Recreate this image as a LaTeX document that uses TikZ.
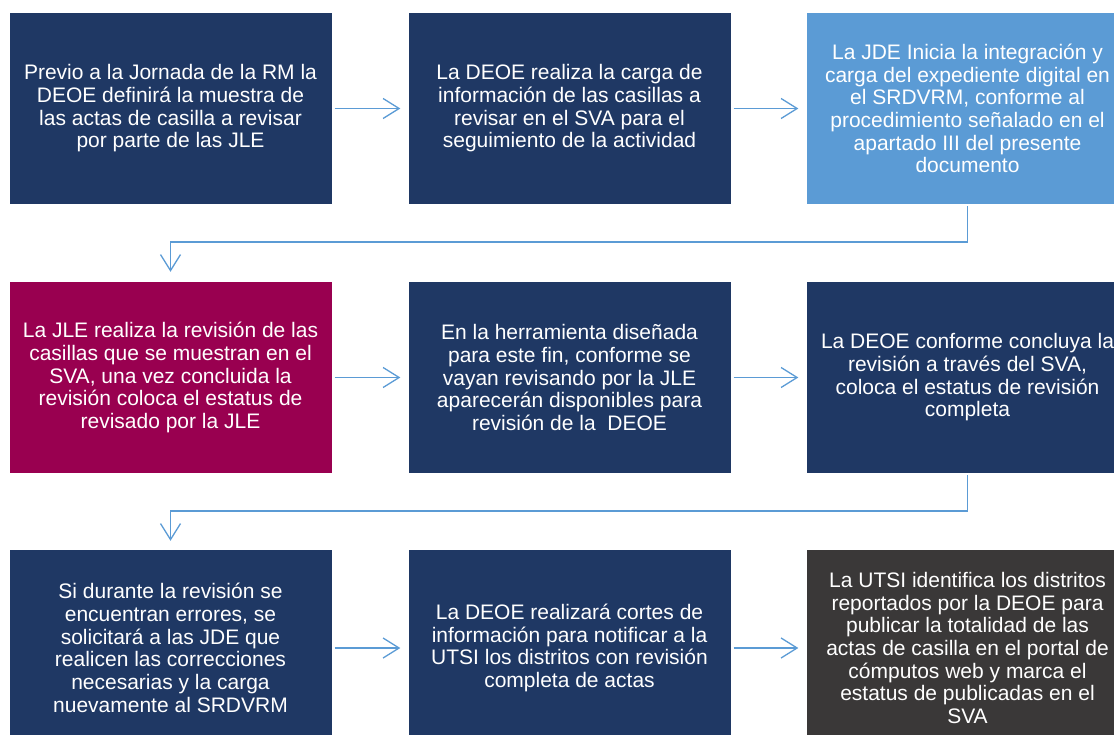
\documentclass[tikz,border=0pt]{standalone}
\usepackage{fontspec}
\setmainfont{Liberation Sans}
\usetikzlibrary{arrows.meta}
\definecolor{navy}{RGB}{31,56,100}
\definecolor{lblue}{RGB}{91,155,213}
\definecolor{maroon}{RGB}{153,0,80}
\definecolor{dgray}{RGB}{58,56,56}
\definecolor{conncol}{RGB}{91,155,213}
\begin{document}
\begin{tikzpicture}[x=1pt,y=-1pt,
  box/.style={rectangle, fill=#1, minimum width=322pt, minimum height=191pt,
    inner sep=0pt, text=white, align=center, font=\fontsize{21}{22.7}\selectfont},
  lowbox/.style={box=#1, minimum height=196pt},
  conn/.style={draw=conncol, line width=1.3pt,
    -{Straight Barb[length=16pt, width=20pt, line width=1.3pt]}}]
\useasboundingbox (0,0) rectangle (1114,735);
\clip (0,0) rectangle (1114,735);
% row 1
\node[box=navy] (b1) at (170.5,108.5) {Previo a la Jornada de la RM la\\DEOE definirá la muestra de\\las actas de casilla a revisar\\por parte de las JLE};
\node[box=navy] (b2) at (569.5,108.5) {La DEOE realiza la carga de\\información de las casillas a\\revisar en el SVA para el\\seguimiento de la actividad};
\node[box=lblue] (b3) at (967.5,108.5) {La JDE Inicia la integración y\\carga del expediente digital en\\el SRDVRM, conforme al\\procedimiento señalado en el\\apartado III del presente\\documento};
% row 2
\node[box=maroon] (b4) at (170.5,377.5) {La JLE realiza la revisión de las\\casillas que se muestran en el\\SVA, una vez concluida la\\revisión coloca el estatus de\\revisado por la JLE};
\node[box=navy] (b5) at (569.5,377.5) {En la herramienta diseñada\\para este fin, conforme se\\vayan revisando por la JLE\\aparecerán disponibles para\\revisión de la~ DEOE};
\node[box=navy] (b6) at (967.5,377.5) {La DEOE conforme concluya la\\revisión a través del SVA,\\coloca el estatus de revisión\\completa};
% row 3
\node[lowbox=navy] (b7) at (170.5,648) {Si durante la revisión se\\encuentran errores, se\\solicitará a las JDE que\\realicen las correcciones\\necesarias y la carga\\nuevamente al SRDVRM};
\node[lowbox=navy] (b8) at (569.5,648) {La DEOE realizará cortes de\\información para notificar a la\\UTSI los distritos con revisión\\completa de actas};
\node[lowbox=dgray] (b9) at (967.5,648) {La UTSI identifica los distritos\\reportados por la DEOE para\\publicar la totalidad de las\\actas de casilla en el portal de\\cómputos web y marca el\\estatus de publicadas en el\\SVA};
% horizontal connectors
\draw[conn] ([xshift=3pt]b1.east) -- ([xshift=-8pt]b2.west);
\draw[conn] ([xshift=3pt]b2.east) -- ([xshift=-8pt]b3.west);
\draw[conn] ([xshift=3pt]b4.east) -- ([xshift=-8pt]b5.west);
\draw[conn] ([xshift=3pt]b5.east) -- ([xshift=-8pt]b6.west);
\draw[conn] ([xshift=3pt]b7.east) -- ([xshift=-8pt]b8.west);
\draw[conn] ([xshift=3pt]b8.east) -- ([xshift=-8pt]b9.west);
% elbow connectors
\coordinate (e1) at (967.5,242);
\coordinate (e2) at (170.5,242);
\draw[conn] ([yshift=-2pt]b3.south) -- (e1) -- (e2) -- ([yshift=10pt]b4.north);
\coordinate (e3) at (967.5,511);
\coordinate (e4) at (170.5,511);
\draw[conn] ([yshift=-2pt]b6.south) -- (e3) -- (e4) -- ([yshift=9pt]b7.north);
\end{tikzpicture}
\end{document}
